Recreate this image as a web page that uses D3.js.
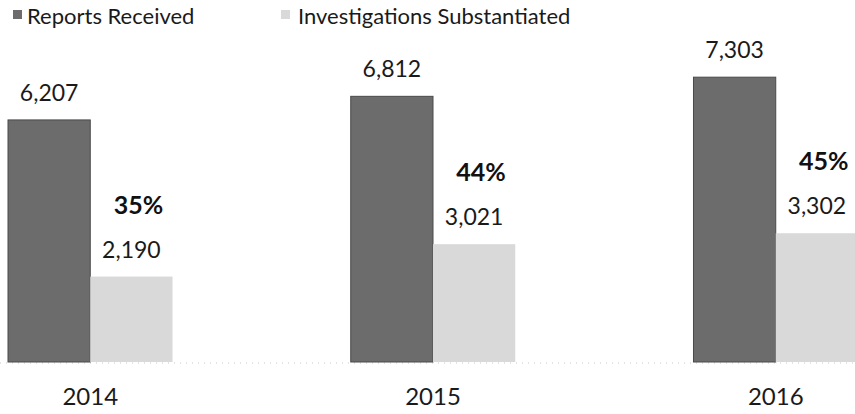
<!DOCTYPE html>
<html>
<head>
<meta charset="utf-8">
<script src="https://cdn.jsdelivr.net/npm/d3@7"></script>
<style>
  body { margin: 0; background: #fff; }
  svg { font-family: Lato, "Noto Sans", sans-serif; }
</style>
</head>
<body>
<div id="chart"></div>
<script>
// data
const years = ["2014", "2015", "2016"];
const seriesNames = ["Reports Received", "Investigations Substantiated"];
const reportsReceived = [6207, 6812, 7303];
const investigationsSubstantiated = [2190, 3021, 3302];
const substantiatedPct = ["35%", "44%", "45%"];

const width = 855, height = 414;
const baseY = 362;

const svg = d3.select("#chart").append("svg")
    .attr("width", width)
    .attr("height", height);

const fills = ["#6c6c6c", "#d9d9d9"];
const strokes = ["#4a4a4a", "none"];

// scales
const x0 = d3.scaleBand()
    .domain(years)
    .range([8, 858])
    .paddingInner(0.52)
    .paddingOuter(0);

const x1 = d3.scaleBand()
    .domain([0, 1])
    .range([0, x0.bandwidth()]);

const y = d3.scaleLinear()
    .domain([0, 8000])
    .range([baseY, baseY - 312]);

const rows = years.map((yr, i) => ({
    year: yr,
    vals: [reportsReceived[i], investigationsSubstantiated[i]],
    pct: substantiatedPct[i]
}));

// faint dotted baseline
svg.append("line")
    .attr("x1", 0).attr("x2", width)
    .attr("y1", baseY + 1).attr("y2", baseY + 1)
    .attr("stroke", "#c8c8c8")
    .attr("stroke-width", 1)
    .attr("stroke-dasharray", "1 5");

const groups = svg.selectAll(".grp")
    .data(rows)
    .enter().append("g")
    .attr("class", "grp")
    .attr("transform", d => `translate(${x0(d.year)},0)`);

groups.selectAll("rect")
    .data(d => d.vals.map((v, k) => ({ k: k, v: v })))
    .enter().append("rect")
    .attr("x", d => x1(d.k))
    .attr("y", d => y(d.v))
    .attr("width", x1.bandwidth())
    .attr("height", d => y(0) - y(d.v))
    .attr("fill", d => fills[d.k])
    .attr("stroke", d => strokes[d.k])
    .attr("stroke-width", 1);

// value labels
groups.selectAll(".val")
    .data(d => d.vals.map((v, k) => ({ k: k, v: v })))
    .enter().append("text")
    .attr("class", "val")
    .attr("x", d => x1(d.k) + x1.bandwidth() / 2)
    .attr("y", d => y(d.v) - 19)
    .attr("text-anchor", "middle")
    .style("font-size", "23px")
    .style("fill", "#1a1a1a")
    .text(d => d3.format(",")(d.v));

// percent labels
groups.append("text")
    .attr("x", x1(1) + x1.bandwidth() / 2 + 7)
    .attr("y", d => y(d.vals[1]) - 63)
    .attr("text-anchor", "middle")
    .style("font-size", "25px")
    .style("font-weight", "bold")
    .style("fill", "#111")
    .text(d => d.pct);

// year labels
groups.append("text")
    .attr("x", x0.bandwidth() / 2)
    .attr("y", 405)
    .attr("text-anchor", "middle")
    .style("font-size", "24px")
    .style("fill", "#1a1a1a")
    .text(d => d.year);

// legend
const legendX = [13, 281];
const legend = svg.selectAll(".leg")
    .data(seriesNames)
    .enter().append("g")
    .attr("class", "leg")
    .attr("transform", (d, i) => `translate(${legendX[i]},10)`);

legend.append("rect")
    .attr("width", 9).attr("height", 9)
    .attr("fill", (d, i) => fills[i]);

legend.append("text")
    .attr("x", (d, i) => i === 0 ? 14 : 17)
    .attr("y", 14)
    .style("font-size", "22px")
    .style("fill", "#1a1a1a")
    .text(d => d);
</script>
</body>
</html>
